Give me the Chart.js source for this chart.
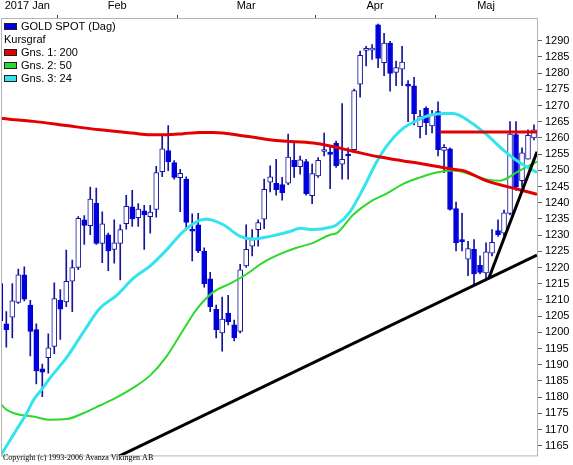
<!DOCTYPE html>
<html>
<head>
<meta charset="utf-8">
<script src="https://cdn.jsdelivr.net/npm/chart.js@4.4.0/dist/chart.umd.min.js"></script>
<style>
body { margin: 0; background: #fff; }
#wrap { width: 573px; height: 465px; position: relative; }
</style>
</head>
<body>
<div id="wrap"><canvas id="goldchart"></canvas></div>
<script>
// daily candles (index 0 = 18 Jan 2017)
var opens = [1215.0, 1202.6, 1204.7, 1209.2, 1217.7, 1208.4, 1200.8, 1188.7, 1192.2, 1195.6,
    1209.9, 1209.4, 1215.8, 1220.0, 1234.7, 1232.9, 1239.9, 1227.4, 1230.1, 1225.6,
    1227.4, 1233.5, 1238.7, 1235.4, 1237.5, 1235.7, 1237.9, 1249.6, 1256.1, 1252.4,
    1247.7, 1247.3, 1231.6, 1233.2, 1225.1, 1216.5, 1207.1, 1199.8, 1205.9, 1202.3,
    1200.3, 1220.5, 1226.6, 1231.7, 1234.9, 1246.3, 1246.0, 1245.6, 1246.0, 1253.1,
    1251.1, 1252.7, 1242.2, 1248.3, 1255.8, 1255.6, 1258.4, 1251.9, 1254.9, 1256.4,
    1276.6, 1287.0, 1287.1, 1294.9, 1283.2, 1289.3, 1280.2, 1281.2, 1276.3, 1276.1,
    1263.5, 1269.1, 1263.7, 1268.1, 1256.1, 1256.6, 1238.2, 1228.3, 1222.6, 1225.6,
    1220.7, 1218.3, 1224.4, 1231.4, 1230.6, 1236.7, 1261.0, 1246.8, 1253.4, 1260.0];
var highs = [1216.0, 1206.4, 1215.0, 1219.5, 1220.2, 1209.9, 1202.6, 1190.2, 1199.5, 1215.3,
    1213.2, 1225.4, 1222.3, 1235.7, 1236.0, 1244.8, 1244.5, 1237.2, 1230.6, 1234.7,
    1233.2, 1242.3, 1243.8, 1239.7, 1239.2, 1239.2, 1251.2, 1260.5, 1263.8, 1253.0,
    1250.3, 1248.0, 1236.6, 1236.7, 1226.1, 1218.5, 1208.4, 1210.9, 1211.4, 1203.8,
    1221.0, 1233.2, 1231.7, 1234.7, 1247.3, 1251.4, 1253.4, 1247.8, 1261.2, 1258.4,
    1254.4, 1253.4, 1251.9, 1253.9, 1261.5, 1257.4, 1259.0, 1270.6, 1256.9, 1275.1,
    1286.8, 1288.3, 1288.8, 1295.1, 1292.3, 1289.8, 1283.7, 1288.3, 1277.7, 1278.7,
    1268.5, 1269.6, 1268.5, 1271.1, 1257.9, 1256.9, 1240.2, 1236.7, 1228.1, 1228.6,
    1223.6, 1227.6, 1231.7, 1234.7, 1237.7, 1265.0, 1265.0, 1256.9, 1262.5, 1264.0];
var lows = [1202.0, 1195.4, 1198.3, 1208.9, 1209.7, 1192.7, 1184.1, 1180.1, 1187.4, 1193.4,
    1197.8, 1207.9, 1206.4, 1219.3, 1227.1, 1230.1, 1227.1, 1221.5, 1219.0, 1221.3,
    1216.2, 1231.8, 1232.7, 1232.7, 1225.6, 1230.6, 1235.5, 1248.0, 1249.9, 1247.3,
    1237.2, 1232.4, 1222.0, 1224.6, 1213.9, 1206.4, 1198.3, 1194.2, 1202.3, 1197.3,
    1199.8, 1220.0, 1223.6, 1226.6, 1232.0, 1243.3, 1242.3, 1240.8, 1245.6, 1247.8,
    1248.8, 1242.3, 1239.7, 1247.8, 1254.4, 1244.3, 1250.9, 1247.3, 1247.3, 1255.9,
    1272.6, 1282.2, 1284.2, 1281.7, 1279.2, 1274.4, 1276.1, 1276.1, 1265.0, 1264.0,
    1260.0, 1261.0, 1261.5, 1254.4, 1249.3, 1237.7, 1225.1, 1225.1, 1217.5, 1214.5,
    1218.0, 1216.5, 1223.6, 1229.6, 1229.1, 1236.2, 1243.8, 1244.8, 1253.4, 1259.4];
var closes = [1203.5, 1200.8, 1209.7, 1217.7, 1210.2, 1200.3, 1188.1, 1187.7, 1195.2, 1210.4,
    1207.1, 1215.7, 1220.0, 1235.2, 1233.0, 1241.1, 1227.4, 1233.5, 1225.1, 1227.6,
    1231.7, 1238.9, 1235.0, 1238.0, 1236.2, 1237.1, 1249.3, 1256.6, 1252.7, 1247.8,
    1249.1, 1233.9, 1231.2, 1225.1, 1215.0, 1207.9, 1200.8, 1204.1, 1203.3, 1198.3,
    1219.3, 1225.6, 1228.6, 1233.9, 1244.1, 1248.0, 1244.0, 1243.1, 1254.1, 1251.1,
    1253.2, 1242.8, 1249.0, 1253.1, 1256.0, 1254.9, 1251.4, 1253.4, 1254.4, 1274.6,
    1285.5, 1287.5, 1287.5, 1284.5, 1289.3, 1279.9, 1281.7, 1283.4, 1276.0, 1267.5,
    1266.7, 1264.7, 1267.2, 1256.4, 1257.1, 1237.9, 1227.6, 1228.0, 1225.8, 1218.0,
    1218.5, 1224.8, 1227.8, 1230.1, 1236.9, 1261.2, 1244.8, 1255.4, 1260.8, 1262.5];

// moving averages, [day index, value]
var ma200 = [[0, 1266.0], [5.5, 1265.1], [11, 1263.8], [16.6, 1262.5], [22, 1261.5], [25, 1261.0],
    [27.7, 1261.0], [30.5, 1261.3], [33.3, 1261.7], [35.5, 1261.7], [41, 1260.5], [46.6, 1259.1],
    [52.2, 1258.4], [55, 1257.5], [58.8, 1255.9], [63.3, 1254.1], [67.2, 1252.9], [70, 1252.1],
    [75.5, 1250.3], [77.2, 1249.9], [81, 1246.8], [86.6, 1244.0], [89.5, 1242.6]];
var ma50 = [[0, 1178.0], [1.1, 1176.0], [2.7, 1174.8], [5.5, 1174.0], [8.3, 1173.0], [11.1, 1173.2],
    [13.8, 1175.0], [16.6, 1177.4], [19.4, 1179.9], [22.2, 1182.9], [25, 1186.7], [27.7, 1192.5],
    [30.5, 1200.7], [32.7, 1207.0], [35.5, 1212.4], [38.3, 1215.0], [41.1, 1218.0], [43.8, 1221.5],
    [46.6, 1224.1], [49.4, 1226.1], [52.2, 1227.6], [55, 1230.1], [56.1, 1230.6], [58.8, 1236.2],
    [61.6, 1240.2], [64.4, 1242.8], [67.2, 1245.8], [70, 1247.8], [72.7, 1249.3], [75.5, 1249.9],
    [78.3, 1248.8], [81.1, 1247.2], [83.3, 1246.8], [86.6, 1249.9], [89.5, 1252.7]];
var ma24 = [[0, 1161.8], [2.7, 1169.9], [4.4, 1175.0], [5.5, 1179.0], [7.2, 1183.1], [8.3, 1185.9],
    [11.1, 1192.3], [13.8, 1199.9], [16.6, 1207.4], [19.4, 1211.4], [22.2, 1216.7], [25, 1220.5],
    [27.7, 1225.4], [30.5, 1231.1], [33.3, 1234.6], [34.4, 1234.9], [37.2, 1233.2], [40, 1229.6],
    [42.2, 1228.8], [45, 1229.6], [48.3, 1231.1], [50, 1232.1], [52.2, 1231.7], [55, 1232.4],
    [56.1, 1233.2], [58.3, 1237.2], [60.5, 1244.3], [62.7, 1252.4], [64.4, 1257.4], [67.2, 1263.0],
    [69.4, 1265.3], [71.6, 1267.0], [74.1, 1267.5], [75.5, 1267.5], [78.3, 1265.0], [81.1, 1261.0],
    [83.8, 1256.4], [86.6, 1252.4], [89.5, 1249.3]];

// drawn trend lines and resistance level
var supportLine = [[15, 1157.5], [89.5, 1223.8]];
var riseLine = [[81.45, 1216.6], [89.5, 1255.7]];
var resistance = [[73.4, 1261.8], [89.5, 1261.8]];

var monthLabels = ['2017 Jan', 'Feb', 'Mar', 'Apr', 'Maj'];
var monthMid = [4.5, 19.5, 41, 62.5, 81];
var monthStart = [9.5, 29.5, 52.5, 72.5];
var priceTicks = [1165, 1170, 1175, 1180, 1185, 1190, 1195, 1200, 1205, 1210, 1215, 1220, 1225,
    1230, 1235, 1240, 1245, 1250, 1255, 1260, 1265, 1270, 1275, 1280, 1285, 1290];

var blue = '#0000dd';
var navy = '#14149c';
var uiFont = '"Liberation Sans", Arial, sans-serif';

function pts(arr) {
    return arr.map(function (p) { return { x: p[0], y: p[1] }; });
}
function isUp(i) {
    return closes[i] >= opens[i];
}

// frame, legend and copyright
var decor = {
    id: 'decor',
    afterDraw: function (chart) {
        var ctx = chart.ctx;
        var a = chart.chartArea;
        ctx.save();
        ctx.strokeStyle = '#b4b4b4';
        ctx.lineWidth = 1;
        ctx.strokeRect(a.left - 0.5, a.top - 0.5, a.right - a.left + 1, a.bottom - a.top + 1);

        var rows = [
            { text: 'GOLD SPOT (Dag)', color: blue },
            { text: 'Kursgraf' },
            { text: chart.data.datasets[4].label, color: chart.data.datasets[4].borderColor },
            { text: chart.data.datasets[3].label, color: chart.data.datasets[3].borderColor },
            { text: chart.data.datasets[2].label, color: chart.data.datasets[2].borderColor }
        ];
        ctx.font = '11px ' + uiFont;
        ctx.textBaseline = 'middle';
        rows.forEach(function (r, k) {
            var y = 26 + k * 13;
            if (r.color) {
                ctx.fillStyle = r.color;
                ctx.fillRect(4, y - 3, 13, 7);
                ctx.strokeStyle = '#202020';
                ctx.strokeRect(4.5, y - 2.5, 12, 6);
                ctx.fillStyle = '#000';
                ctx.fillText(r.text, 21, y + 0.5);
            } else {
                ctx.fillStyle = '#000';
                ctx.fillText(r.text, 4, y + 0.5);
            }
        });

        ctx.font = '8px "Liberation Serif", "Times New Roman", serif';
        ctx.fillStyle = '#000';
        ctx.fillText('Copyright (c) 1993-2006 Avanza Vikingen AB', 3, 458);
        ctx.restore();
    }
};

var chart1 = document.getElementById('goldchart');

var myChart1 = new Chart(chart1, {
type: 'bar',
data: {
    datasets: [{
        type: 'line',
        label: 'support',
        data: pts(supportLine),
        borderColor: '#000',
        borderWidth: 3,
        pointRadius: 0,
        clip: 0,
        order: 0
    }, {
        type: 'line',
        label: 'rise',
        data: pts(riseLine),
        borderColor: '#000',
        borderWidth: 3,
        pointRadius: 0,
        clip: 0,
        order: 0
    }, {
        type: 'line',
        label: 'Gns. 3: 24',
        data: pts(ma24),
        borderColor: '#33e4ef',
        borderWidth: 3,
        pointRadius: 0,
        cubicInterpolationMode: 'monotone',
        clip: 0,
        order: 2
    }, {
        type: 'line',
        label: 'Gns. 2: 50',
        data: pts(ma50),
        borderColor: '#2ed82e',
        borderWidth: 2,
        pointRadius: 0,
        cubicInterpolationMode: 'monotone',
        clip: 0,
        order: 3
    }, {
        type: 'line',
        label: 'Gns. 1: 200',
        data: pts(ma200),
        borderColor: '#e40000',
        borderWidth: 3,
        pointRadius: 0,
        cubicInterpolationMode: 'monotone',
        clip: 0,
        order: 1
    }, {
        type: 'line',
        label: 'level',
        data: pts(resistance),
        borderColor: '#e40000',
        borderWidth: 3,
        pointRadius: 0,
        clip: 0,
        order: 1
    }, {
        label: 'body',
        data: opens.map(function (o, i) { return { x: i, y: [o, closes[i]] }; }),
        backgroundColor: function (c) { return isUp(c.dataIndex) ? '#ffffff' : blue; },
        borderColor: function (c) { return isUp(c.dataIndex) ? navy : blue; },
        borderWidth: 1,
        borderSkipped: false,
        barThickness: 5,
        minBarLength: 2,
        grouped: false,
        clip: 0,
        order: 5
    }, {
        label: 'wick',
        data: highs.map(function (h, i) { return { x: i, y: [lows[i], h] }; }),
        backgroundColor: navy,
        borderWidth: 0,
        barThickness: 1,
        grouped: false,
        clip: 0,
        order: 6
    }]
},
options: {
    responsive: true,
    maintainAspectRatio: false,
    animation: false,
    layout: {
        padding: { left: 2, bottom: 2, top: 0, right: 0 }
    },
    scales: {
        x: {
            type: 'linear',
            position: 'top',
            offset: false,
            min: 0.28,
            max: 89.5,
            afterBuildTicks: function (axis) {
                axis.ticks = monthStart.concat(monthMid).map(function (v) { return { value: v }; });
            },
            afterFit: function (axis) { axis.height = 19; },
            ticks: {
                autoSkip: false,
                maxRotation: 0,
                padding: 2,
                color: '#000',
                font: { family: uiFont, size: 11 },
                callback: function (v) {
                    var k = monthMid.indexOf(v);
                    return k >= 0 ? monthLabels[k] : '';
                }
            },
            grid: {
                offset: false,
                drawOnChartArea: false,
                drawTicks: true,
                tickLength: 4,
                tickColor: function (c) {
                    return c.tick && monthStart.indexOf(c.tick.value) >= 0 ? '#404040' : 'rgba(0,0,0,0)';
                }
            },
            border: { display: false }
        },
        y: {
            position: 'right',
            min: 1162,
            max: 1296.7,
            afterBuildTicks: function (axis) {
                axis.ticks = priceTicks.map(function (v) { return { value: v }; });
            },
            afterFit: function (axis) { axis.width = 36; },
            ticks: {
                autoSkip: false,
                padding: 3,
                color: '#000',
                font: { family: uiFont, size: 11 },
                callback: function (v) { return String(v); }
            },
            grid: {
                drawOnChartArea: false,
                drawTicks: true,
                tickLength: 5,
                tickColor: '#606060'
            },
            border: { display: false }
        }
    },
    plugins: {
        legend: { display: false },
        tooltip: { enabled: false },
        title: { display: false }
    }
},
plugins: [decor]
});
</script>
</body>
</html>
